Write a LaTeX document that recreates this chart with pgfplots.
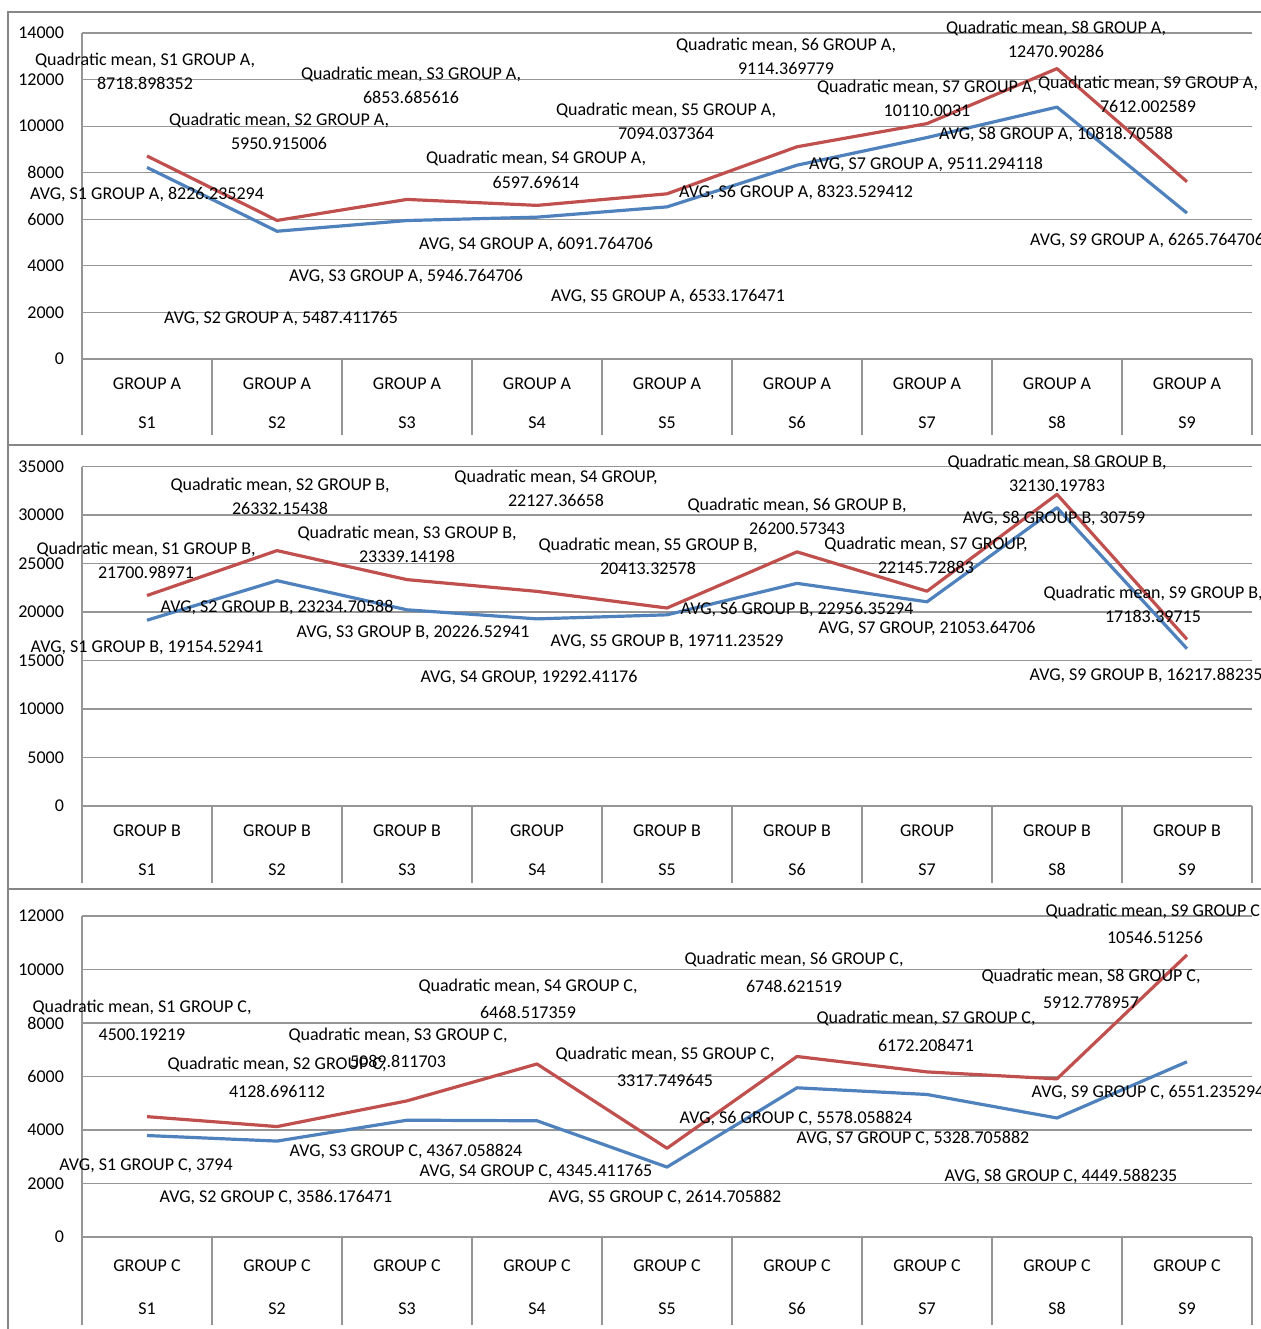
\documentclass[border=0pt]{standalone}
\usepackage{pgfplots}
\pgfplotsset{compat=1.18}
\usepackage{fontspec}
\setmainfont{Carlito}
\definecolor{qred}{RGB}{192,80,77}
\definecolor{avblue}{RGB}{79,129,189}
\definecolor{gridc}{RGB}{150,150,150}
\definecolor{framec}{RGB}{134,134,134}
\newcommand\lab[3]{\node[anchor=base, inner sep=0pt, font=\fontsize{9}{11}\selectfont] at ({#1*0.5pt},{-(#2+6)*0.5pt}) {#3};}
\pgfplotsset{
 panel/.style={
  scale only axis, width=585pt,
  xmin=-0.5, xmax=8.5, ymin=0,
  axis x line=bottom, axis y line=left,
  axis line style={draw=gridc, line width=0.6pt, -},
  ymajorgrids, grid style={draw=gridc, line width=0.6pt},
  xtick={0,...,8},
  major tick length=0pt,
  tick align=outside,
  scaled y ticks=false,
  extra x ticks={-0.5,0.5,1.5,2.5,3.5,4.5,5.5,6.5,7.5,8.5},
  extra x tick style={grid=none, xticklabel={}, major tick style={draw=gridc, line width=0.6pt}},
  tick label style={font=\fontsize{9}{11}\selectfont},
  /pgf/number format/assume math mode=true,
  /pgf/number format/1000 sep={},
  yticklabel style={xshift=-5.5pt},
  xticklabel style={align=center, anchor=center},
  clip=false,
 },
 avg/.style={avblue, line width=1.6pt, line join=round},
 quad/.style={qred, line width=1.6pt, line join=round},
}
\begin{document}
\begin{tikzpicture}
\useasboundingbox (0,0) rectangle (630.5pt,-664.5pt);
% ---------- Panel A ----------
\begin{axis}[panel, at={(41pt,-179.5pt)}, anchor=south west, height=163pt,
  ymax=14000, ytick={0,2000,...,14000},
  extra x tick style={major tick length=38pt},
  xticklabel style={yshift=-22.25pt},
  xticklabels={{GROUP A\\[8.5pt]S1},{GROUP A\\[8.5pt]S2},{GROUP A\\[8.5pt]S3},{GROUP A\\[8.5pt]S4},{GROUP A\\[8.5pt]S5},{GROUP A\\[8.5pt]S6},{GROUP A\\[8.5pt]S7},{GROUP A\\[8.5pt]S8},{GROUP A\\[8.5pt]S9}}]
\addplot[avg] coordinates {(0,8226.235294) (1,5487.411765) (2,5946.764706) (3,6091.764706) (4,6533.176471) (5,8323.529412) (6,9511.294118) (7,10818.70588) (8,6265.764706)};
\addplot[quad] coordinates {(0,8718.898352) (1,5950.915006) (2,6853.685616) (3,6597.69614) (4,7094.037364) (5,9114.369779) (6,10110.0031) (7,12470.90286) (8,7612.002589)};
\end{axis}
% ---------- Panel B ----------
\begin{axis}[panel, at={(41pt,-403pt)}, anchor=south west, height=169.75pt,
  ymax=35000, ytick={0,5000,...,35000},
  extra x tick style={major tick length=38.5pt},
  xticklabel style={yshift=-22pt},
  xticklabels={{GROUP B\\[8.5pt]S1},{GROUP B\\[8.5pt]S2},{GROUP B\\[8.5pt]S3},{GROUP\\[8.5pt]S4},{GROUP B\\[8.5pt]S5},{GROUP B\\[8.5pt]S6},{GROUP\\[8.5pt]S7},{GROUP B\\[8.5pt]S8},{GROUP B\\[8.5pt]S9}}]
\addplot[avg] coordinates {(0,19154.52941) (1,23234.70588) (2,20226.52941) (3,19292.41176) (4,19711.23529) (5,22956.35294) (6,21053.64706) (7,30759) (8,16217.88235)};
\addplot[quad] coordinates {(0,21700.98971) (1,26332.15438) (2,23339.14198) (3,22127.36658) (4,20413.32578) (5,26200.57343) (6,22145.72883) (7,32130.19783) (8,17183.39715)};
\end{axis}
% ---------- Panel C ----------
\begin{axis}[panel, at={(41pt,-618.5pt)}, anchor=south west, height=160.5pt,
  ymax=12000, ytick={0,2000,...,12000},
  extra x tick style={major tick length=44pt},
  xticklabel style={yshift=-25.25pt},
  xticklabels={{GROUP C\\[10.5pt]S1},{GROUP C\\[10.5pt]S2},{GROUP C\\[10.5pt]S3},{GROUP C\\[10.5pt]S4},{GROUP C\\[10.5pt]S5},{GROUP C\\[10.5pt]S6},{GROUP C\\[10.5pt]S7},{GROUP C\\[10.5pt]S8},{GROUP C\\[10.5pt]S9}}]
\addplot[avg] coordinates {(0,3794) (1,3586.176471) (2,4367.058824) (3,4345.411765) (4,2614.705882) (5,5578.058824) (6,5328.705882) (7,4449.588235) (8,6551.235294)};
\addplot[quad] coordinates {(0,4500.19219) (1,4128.696112) (2,5089.811703) (3,6468.517359) (4,3317.749645) (5,6748.621519) (6,6172.208471) (7,5912.778957) (8,10546.51256)};
\end{axis}
% frames
\draw[framec, line width=1.2pt] (4pt,-6pt) rectangle (640pt,-222.5pt);
\draw[framec, line width=1.2pt] (4pt,-222.5pt) rectangle (640pt,-444.5pt);
\draw[framec, line width=1.2pt] (4pt,-444.5pt) rectangle (640pt,-680pt);
% ---------- labels A ----------
\lab{145}{59}{Quadratic mean, S1 GROUP A,}\lab{145}{83}{8718.898352}
\lab{279}{119}{Quadratic mean, S2 GROUP A,}\lab{279}{143}{5950.915006}
\lab{411}{73}{Quadratic mean, S3 GROUP A,}\lab{411}{97}{6853.685616}
\lab{536}{157}{Quadratic mean, S4 GROUP A,}\lab{536}{182}{6597.69614}
\lab{666}{109}{Quadratic mean, S5 GROUP A,}\lab{666}{133}{7094.037364}
\lab{786}{44}{Quadratic mean, S6 GROUP A,}\lab{786}{68}{9114.369779}
\lab{927}{86}{Quadratic mean, S7 GROUP A,}\lab{927}{110}{10110.0031}
\lab{1056}{27}{Quadratic mean, S8 GROUP A,}\lab{1056}{51}{12470.90286}
\lab{1148}{82}{Quadratic mean, S9 GROUP A,}\lab{1148}{106}{7612.002589}
\lab{147}{193}{AVG, S1 GROUP A, 8226.235294}
\lab{281}{317}{AVG, S2 GROUP A, 5487.411765}
\lab{406}{275}{AVG, S3 GROUP A, 5946.764706}
\lab{536}{243}{AVG, S4 GROUP A, 6091.764706}
\lab{668}{295}{AVG, S5 GROUP A, 6533.176471}
\lab{796}{191}{AVG, S6 GROUP A, 8323.529412}
\lab{926}{163}{AVG, S7 GROUP A, 9511.294118}
\lab{1056}{133}{AVG, S8 GROUP A, 10818.70588}
\lab{1147}{239}{AVG, S9 GROUP A, 6265.764706}
% ---------- labels B ----------
\lab{146}{548}{Quadratic mean, S1 GROUP B,}\lab{146}{572}{21700.98971}
\lab{280}{484}{Quadratic mean, S2 GROUP B,}\lab{280}{508}{26332.15438}
\lab{407}{532}{Quadratic mean, S3 GROUP B,}\lab{407}{556}{23339.14198}
\lab{556}{476}{Quadratic mean, S4 GROUP,}\lab{556}{500}{22127.36658}
\lab{648}{544}{Quadratic mean, S5 GROUP B,}\lab{648}{568}{20413.32578}
\lab{797}{504}{Quadratic mean, S6 GROUP B,}\lab{797}{528}{26200.57343}
\lab{926}{543}{Quadratic mean, S7 GROUP,}\lab{926}{567}{22145.72883}
\lab{1057}{461}{Quadratic mean, S8 GROUP B,}\lab{1057}{485}{32130.19783}
\lab{1153}{592}{Quadratic mean, S9 GROUP B,}\lab{1153}{616}{17183.39715}
\lab{147}{646}{AVG, S1 GROUP B, 19154.52941}
\lab{277}{606}{AVG, S2 GROUP B, 23234.70588}
\lab{413}{631}{AVG, S3 GROUP B, 20226.52941}
\lab{529}{676}{AVG, S4 GROUP, 19292.41176}
\lab{667}{640}{AVG, S5 GROUP B, 19711.23529}
\lab{797}{608}{AVG, S6 GROUP B, 22956.35294}
\lab{927}{627}{AVG, S7 GROUP, 21053.64706}
\lab{1054}{517}{AVG, S8 GROUP B, 30759}
\lab{1146}{674}{AVG, S9 GROUP B, 16217.88235}
% ---------- labels C ----------
\lab{142}{1006}{Quadratic mean, S1 GROUP C,}\lab{142}{1034}{4500.19219}
\lab{277}{1063}{Quadratic mean, S2 GROUP C,}\lab{277}{1091}{4128.696112}
\lab{398}{1034}{Quadratic mean, S3 GROUP C,}\lab{398}{1061}{5089.811703}
\lab{528}{985}{Quadratic mean, S4 GROUP C,}\lab{528}{1012}{6468.517359}
\lab{665}{1053}{Quadratic mean, S5 GROUP C,}\lab{665}{1080}{3317.749645}
\lab{794}{958}{Quadratic mean, S6 GROUP C,}\lab{794}{986}{6748.621519}
\lab{926}{1017}{Quadratic mean, S7 GROUP C,}\lab{926}{1045}{6172.208471}
\lab{1091}{975}{Quadratic mean, S8 GROUP C,}\lab{1091}{1002}{5912.778957}
\lab{1155}{910}{Quadratic mean, S9 GROUP C,}\lab{1155}{937}{10546.51256}
\lab{146}{1164}{AVG, S1 GROUP C, 3794}
\lab{276}{1196}{AVG, S2 GROUP C, 3586.176471}
\lab{406}{1150}{AVG, S3 GROUP C, 4367.058824}
\lab{536}{1170}{AVG, S4 GROUP C, 4345.411765}
\lab{665}{1196}{AVG, S5 GROUP C, 2614.705882}
\lab{796}{1117}{AVG, S6 GROUP C, 5578.058824}
\lab{913}{1137}{AVG, S7 GROUP C, 5328.705882}
\lab{1061}{1175}{AVG, S8 GROUP C, 4449.588235}
\lab{1148}{1091}{AVG, S9 GROUP C, 6551.235294}
\end{tikzpicture}
\end{document}
